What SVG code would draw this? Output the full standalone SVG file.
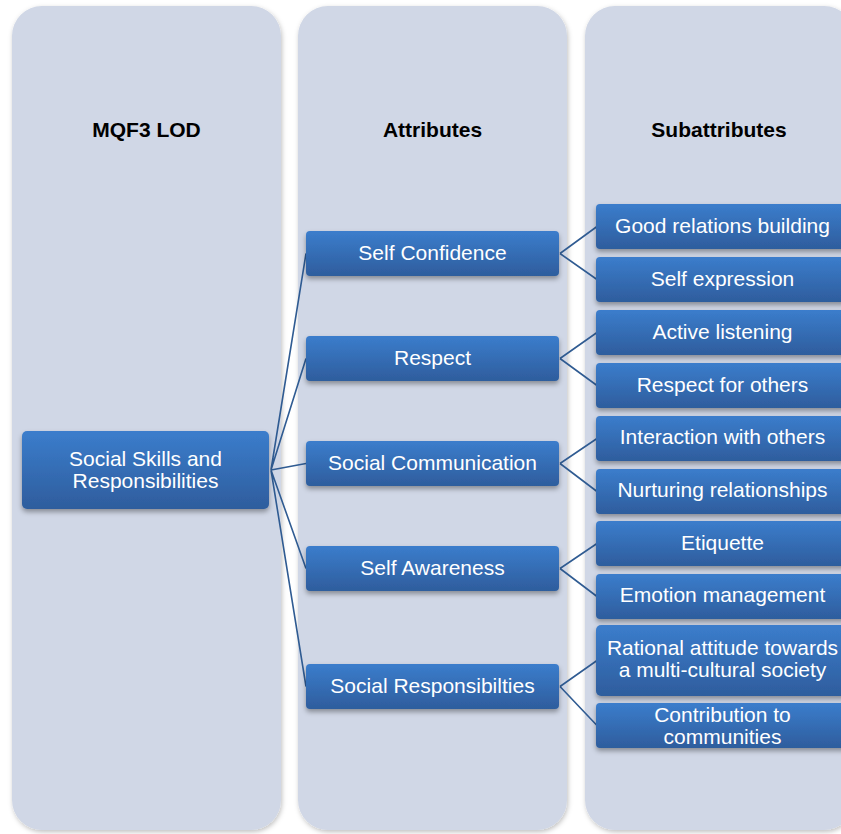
<svg xmlns="http://www.w3.org/2000/svg" width="841" height="834" viewBox="0 0 841 834">
<defs>
<linearGradient id="bg" x1="0" y1="0" x2="0" y2="1">
<stop offset="0" stop-color="#3B7DCC"/>
<stop offset="1" stop-color="#2E5D9D"/>
</linearGradient>
<filter id="sh" x="-10%" y="-20%" width="120%" height="150%">
<feDropShadow dx="0" dy="3" stdDeviation="2.5" flood-color="#000" flood-opacity="0.35"/>
</filter>
<filter id="csh" x="-10%" y="-5%" width="120%" height="110%">
<feDropShadow dx="1" dy="2" stdDeviation="2.5" flood-color="#000" flood-opacity="0.25"/>
</filter>
</defs>
<style>
.col{fill:#D0D7E6;filter:url(#csh)}
.hd{font-family:"Liberation Sans",Arial,sans-serif;font-weight:bold;font-size:21px;fill:#000;text-anchor:middle}
.box{fill:url(#bg);filter:url(#sh)}
.t{font-family:"Liberation Sans",Arial,sans-serif;font-size:21px;fill:#fff;text-anchor:middle}
.cn{stroke:#2F5B92;stroke-width:1.6;fill:none}
</style>
<rect width="841" height="834" fill="#fff"/>
<g id="columns">
<rect class="col" x="12" y="6" width="269" height="824" rx="30"/>
<rect class="col" x="298" y="6" width="269" height="824" rx="30"/>
<rect class="col" x="585" y="6" width="269" height="824" rx="30"/>
<text class="hd" x="146.5" y="137">MQF3 LOD</text>
<text class="hd" x="432.5" y="137">Attributes</text>
<text class="hd" x="719" y="137">Subattributes</text>
</g>
<g id="connectors">
<path class="cn" d="M271 470L306 253.5M271 470L306 358.5M271 470L306 463.5M271 470L306 568.5M271 470L306 686.5"/>
<path class="cn" d="M560 253.5L597 226.5M560 253.5L597 279.5M560 358.5L597 332.5M560 358.5L597 385.5M560 463.5L597 438.5M560 463.5L597 491.5M560 568.5L597 543.5M560 568.5L597 596.5M560 686.5L597 660.5M560 686.5L597 725.5"/>
</g>
<g id="root">
<rect class="box" x="22" y="431" width="247" height="78" rx="5"/>
<text class="t" x="145.5" y="466">Social Skills and</text>
<text class="t" x="145.5" y="488">Responsibilities</text>
</g>
<g id="a1"><rect class="box" x="306" y="231" width="253" height="45" rx="4"/><text class="t" x="432.5" y="260">Self Confidence</text></g>
<g id="a2"><rect class="box" x="306" y="336" width="253" height="45" rx="4"/><text class="t" x="432.5" y="365">Respect</text></g>
<g id="a3"><rect class="box" x="306" y="441" width="253" height="45" rx="4"/><text class="t" x="432.5" y="470">Social Communication</text></g>
<g id="a4"><rect class="box" x="306" y="546" width="253" height="45" rx="4"/><text class="t" x="432.5" y="575">Self Awareness</text></g>
<g id="a5"><rect class="box" x="306" y="664" width="253" height="45" rx="4"/><text class="t" x="432.5" y="693">Social Responsibilties</text></g>
<g id="s1"><rect class="box" x="596" y="204" width="253" height="45" rx="4"/><text class="t" x="722.5" y="233">Good relations building</text></g>
<g id="s2"><rect class="box" x="596" y="257" width="253" height="45" rx="4"/><text class="t" x="722.5" y="286">Self expression</text></g>
<g id="s3"><rect class="box" x="596" y="310" width="253" height="45" rx="4"/><text class="t" x="722.5" y="339">Active listening</text></g>
<g id="s4"><rect class="box" x="596" y="363" width="253" height="45" rx="4"/><text class="t" x="722.5" y="392">Respect for others</text></g>
<g id="s5"><rect class="box" x="596" y="416" width="253" height="45" rx="4"/><text class="t" x="722.5" y="444">Interaction with others</text></g>
<g id="s6"><rect class="box" x="596" y="469" width="253" height="45" rx="4"/><text class="t" x="722.5" y="497">Nurturing relationships</text></g>
<g id="s7"><rect class="box" x="596" y="521" width="253" height="45" rx="4"/><text class="t" x="722.5" y="550">Etiquette</text></g>
<g id="s8"><rect class="box" x="596" y="574" width="253" height="45" rx="4"/><text class="t" x="722.5" y="602">Emotion management</text></g>
<g id="s9"><rect class="box" x="596" y="625" width="253" height="71" rx="5"/><text class="t" x="722.5" y="655">Rational attitude towards</text><text class="t" x="722.5" y="677">a multi-cultural society</text></g>
<g id="s10"><rect class="box" x="596" y="703" width="253" height="45" rx="4"/><text class="t" x="722.5" y="722">Contribution to</text><text class="t" x="722.5" y="744">communities</text></g>
</svg>
